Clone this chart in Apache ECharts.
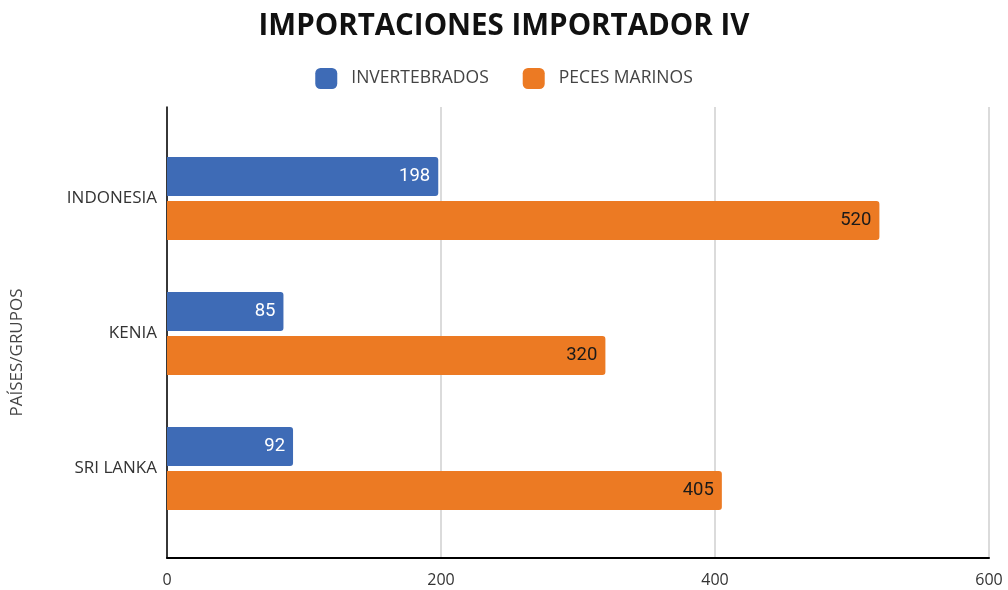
<!DOCTYPE html>
<html>
<head>
<meta charset="utf-8">
<script src="https://cdn.jsdelivr.net/npm/echarts@6/dist/echarts.min.js"></script>
<style>html,body{margin:0;padding:0;background:#fff}#c{width:1008px;height:590px}</style>
</head>
<body>
<div id="c"></div>
<script>
const categories = ['INDONESIA', 'KENIA', 'SRI LANKA'];
const invertebrados = [198, 85, 92];
const pecesMarinos = [520, 320, 405];
const xTicks = [0, 200, 400, 600];

const chart = echarts.init(document.getElementById('c'));
chart.setOption({
  animation: false,
  backgroundColor: '#fff',
  title: {
    text: 'IMPORTACIONES IMPORTADOR IV',
    left: 'center', top: 7,
    textStyle: { fontFamily: 'Open Sans', fontWeight: 'bold', fontSize: 29.5, color: '#111' }
  },
  legend: {
    top: 63, left: 'center',
    itemWidth: 22, itemHeight: 21, itemGap: 34,
    icon: 'roundRect',
    textStyle: { fontFamily: 'Open Sans', fontSize: 17.5, color: '#444', padding: [0, 0, 0, 9] },
    data: ['INVERTEBRADOS', 'PECES MARINOS']
  },
  grid: [
    { left: 167, right: 19, top: 107, bottom: 32 },
    { left: 167, right: 19, top: 131, height: 405 }
  ],
  xAxis: [
    {
      gridIndex: 0, type: 'value', min: xTicks[0], max: xTicks[xTicks.length - 1], interval: 200,
      axisLine: { show: true, lineStyle: { color: '#000', width: 2 } },
      axisTick: { show: false },
      axisLabel: { fontFamily: 'Open Sans', fontSize: 16, color: '#333', margin: 14 },
      splitLine: { show: true, lineStyle: { color: '#cfcfcf', width: 1.5 } }
    },
    {
      gridIndex: 1, type: 'value', min: xTicks[0], max: xTicks[xTicks.length - 1], show: false
    }
  ],
  yAxis: [
    {
      gridIndex: 0, type: 'value', min: 0, max: 1,
      axisLine: { show: true, lineStyle: { color: '#000', width: 1.5 } },
      axisTick: { show: false }, axisLabel: { show: false }, splitLine: { show: false },
      name: 'PAÍSES/GRUPOS', nameLocation: 'middle', nameGap: 141, nameRotate: 90,
      nameTextStyle: { fontFamily: 'Open Sans', fontSize: 17, color: '#444', padding: [0, 0, 0, -40] }
    },
    {
      gridIndex: 1, type: 'category', data: categories, inverse: true,
      axisLine: { show: false }, axisTick: { show: false },
      axisLabel: { fontFamily: 'Open Sans', fontSize: 17, color: '#333', margin: 10 }
    }
  ],
  series: [
    {
      name: 'INVERTEBRADOS', type: 'bar', xAxisIndex: 1, yAxisIndex: 1,
      data: invertebrados, barWidth: 39, barGap: '13%',
      itemStyle: { color: '#3e6bb6', borderRadius: [0, 3, 3, 0] },
      label: { show: true, position: 'insideRight', distance: 8, color: '#fff', fontFamily: 'Roboto', fontSize: 18.5 }
    },
    {
      name: 'PECES MARINOS', type: 'bar', xAxisIndex: 1, yAxisIndex: 1,
      data: pecesMarinos, barWidth: 39, barGap: '13%',
      itemStyle: { color: '#ec7a23', borderRadius: [0, 3, 3, 0] },
      label: { show: true, position: 'insideRight', distance: 8, color: '#1a1a1a', fontFamily: 'Roboto', fontSize: 18.5 }
    }
  ]
});
</script>
</body>
</html>
